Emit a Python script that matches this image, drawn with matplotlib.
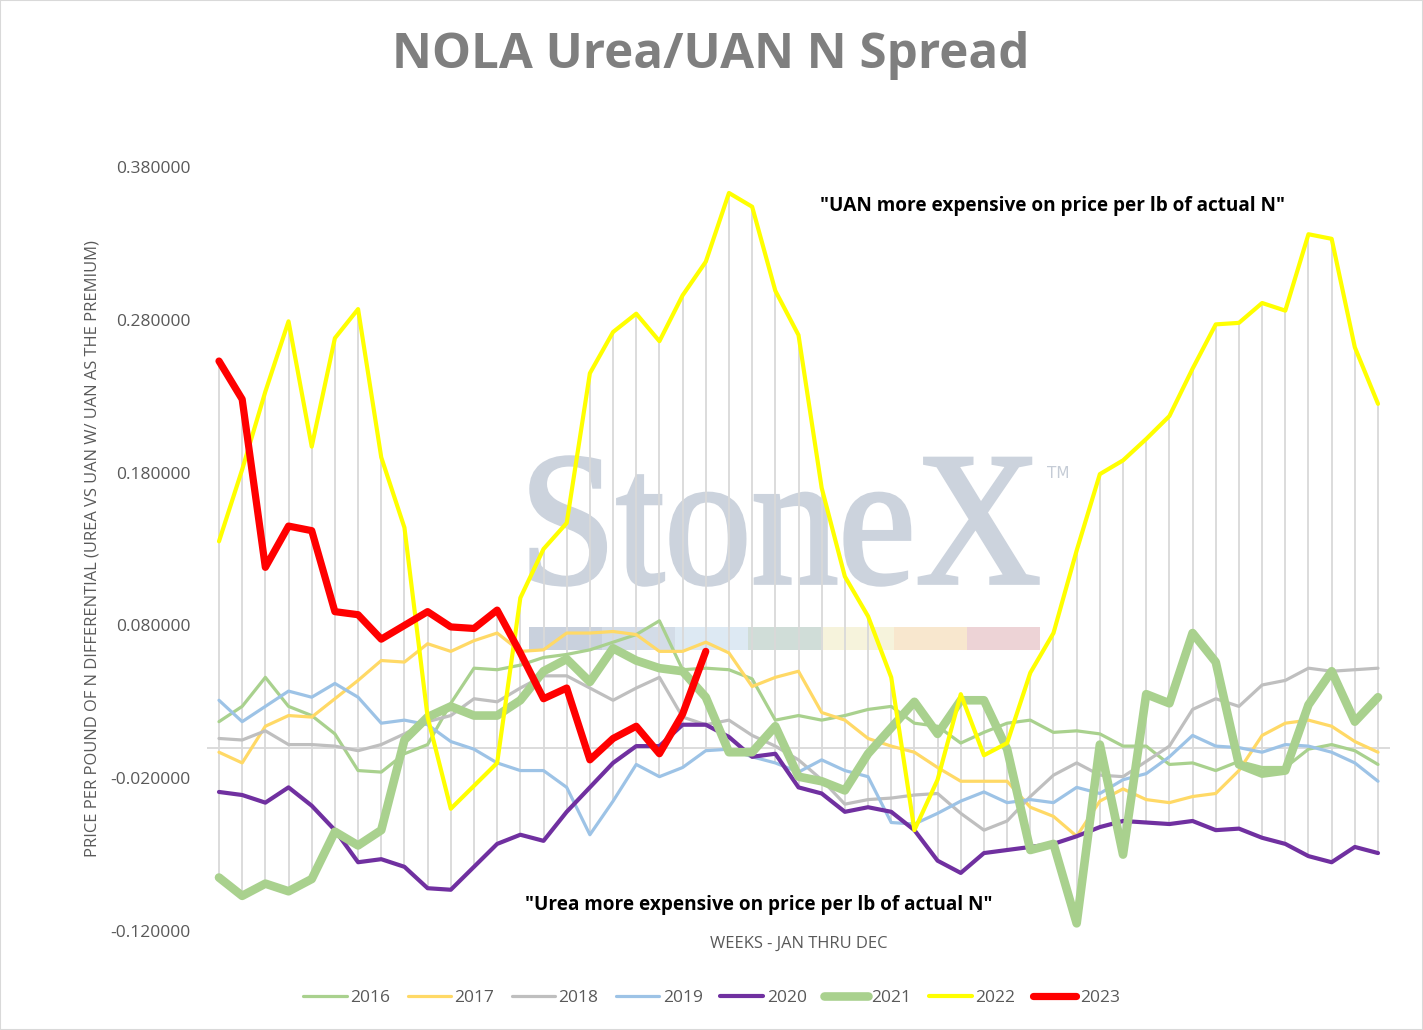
import numpy as np
import matplotlib
matplotlib.use('Agg')
import matplotlib.pyplot as plt
from matplotlib.textpath import TextPath
from matplotlib.patches import PathPatch, Rectangle
from matplotlib.font_manager import FontProperties
from matplotlib.transforms import Affine2D

plt.rcParams['font.family'] = ['Open Sans', 'DejaVu Sans']

# weekly spread, jan thru dec (51 weeks)
weeks = np.arange(1, 52)

s2016 = [0.017, 0.027, 0.046, 0.027, 0.021, 0.009, -0.015, -0.016, -0.004, 0.002,
         0.029, 0.052, 0.051, 0.054, 0.059, 0.061, 0.064, 0.069, 0.074, 0.083,
         0.051, 0.052, 0.051, 0.045, 0.018, 0.021, 0.018, 0.021, 0.025, 0.027,
         0.016, 0.014, 0.003, 0.010, 0.016, 0.018, 0.010, 0.011, 0.009, 0.001,
         0.001, -0.011, -0.010, -0.015, -0.009, -0.013, -0.013, -0.001, 0.002, -0.002,
         -0.011]
s2017 = [-0.003, -0.010, 0.014, 0.021, 0.020, 0.032, 0.044, 0.057, 0.056, 0.068,
         0.063, 0.070, 0.075, 0.063, 0.064, 0.075, 0.075, 0.076, 0.074, 0.063,
         0.063, 0.069, 0.062, 0.040, 0.046, 0.050, 0.023, 0.018, 0.006, 0.001,
         -0.003, -0.013, -0.022, -0.022, -0.022, -0.039, -0.045, -0.058, -0.035, -0.027,
         -0.034, -0.036, -0.032, -0.030, -0.015, 0.008, 0.016, 0.018, 0.014, 0.004,
         -0.003]
s2018 = [0.006, 0.005, 0.011, 0.002, 0.002, 0.001, -0.002, 0.002, 0.009, 0.017,
         0.021, 0.032, 0.030, 0.039, 0.047, 0.047, 0.039, 0.031, 0.039, 0.046,
         0.020, 0.015, 0.018, 0.008, 0.001, -0.008, -0.021, -0.037, -0.034, -0.033,
         -0.031, -0.030, -0.043, -0.054, -0.048, -0.032, -0.018, -0.010, -0.018, -0.019,
         -0.009, 0.001, 0.025, 0.032, 0.027, 0.041, 0.044, 0.052, 0.050, 0.051,
         0.052]
s2019 = [0.031, 0.017, 0.027, 0.037, 0.033, 0.042, 0.033, 0.016, 0.018, 0.015,
         0.004, -0.001, -0.010, -0.015, -0.015, -0.026, -0.057, -0.035, -0.011, -0.019,
         -0.013, -0.002, -0.001, -0.006, -0.010, -0.016, -0.008, -0.015, -0.019, -0.049,
         -0.050, -0.043, -0.035, -0.029, -0.036, -0.034, -0.036, -0.026, -0.030, -0.021,
         -0.017, -0.006, 0.008, 0.001, 0.000, -0.003, 0.002, 0.001, -0.003, -0.010,
         -0.022]
s2020 = [-0.029, -0.031, -0.036, -0.026, -0.038, -0.054, -0.075, -0.073, -0.078, -0.092,
         -0.093, -0.078, -0.063, -0.057, -0.061, -0.042, -0.026, -0.010, 0.001, 0.001,
         0.015, 0.015, 0.007, -0.006, -0.004, -0.026, -0.030, -0.042, -0.039, -0.042,
         -0.054, -0.074, -0.082, -0.069, -0.067, -0.065, -0.063, -0.058, -0.052, -0.048,
         -0.049, -0.050, -0.048, -0.054, -0.053, -0.059, -0.063, -0.071, -0.075, -0.065,
         -0.069]
s2021 = [-0.085, -0.097, -0.089, -0.094, -0.086, -0.055, -0.064, -0.054, 0.005, 0.020,
         0.027, 0.021, 0.021, 0.031, 0.050, 0.058, 0.043, 0.065, 0.057, 0.052,
         0.050, 0.033, -0.003, -0.003, 0.014, -0.019, -0.022, -0.028, -0.004, 0.013,
         0.030, 0.009, 0.031, 0.031, -0.001, -0.067, -0.063, -0.115, 0.002, -0.070,
         0.035, 0.029, 0.075, 0.056, -0.011, -0.017, -0.015, 0.028, 0.050, 0.017,
         0.033]
s2022 = [0.135, 0.182, 0.233, 0.279, 0.197, 0.268, 0.287, 0.190, 0.144, 0.020,
         -0.040, -0.025, -0.010, 0.098, 0.130, 0.147, 0.245, 0.272, 0.284, 0.266,
         0.296, 0.318, 0.363, 0.354, 0.299, 0.270, 0.170, 0.112, 0.086, 0.046,
         -0.054, -0.021, 0.035, -0.005, 0.003, 0.049, 0.075, 0.129, 0.179, 0.188,
         0.202, 0.217, 0.248, 0.277, 0.278, 0.291, 0.286, 0.336, 0.333, 0.262,
         0.225]
s2023 = [0.253, 0.228, 0.118, 0.145, 0.142, 0.089, 0.087, 0.071, 0.080, 0.089,
         0.079, 0.078, 0.090, 0.062, 0.032, 0.039, -0.008, 0.006, 0.014, -0.004,
         0.022, 0.063]

years = ['2016', '2017', '2018', '2019', '2020', '2021', '2022', '2023']
series = [s2016, s2017, s2018, s2019, s2020, s2021, s2022, s2023]
colors = ['#A9D18E', '#FFD966', '#BFBFBF', '#9DC3E6', '#7030A0', '#A9D18E', '#FFFF00', '#FF0000']
widths = [2.3, 2.3, 2.3, 2.3, 3.0, 6.2, 3.0, 5.2]

W, H = 1423, 1030


def fx(px):
    return px / W


def fy(py):
    return 1 - py / H


fig = plt.figure(figsize=(W / 100, H / 100), dpi=100)
ax = fig.add_axes([fx(207.4), fy(931), fx(1182.2), 764 / H])
ax.set_facecolor('none')

# watermark behind the plot
tp = TextPath((0, 0), 'StoneX', size=100, prop=FontProperties(family='Liberation Serif'))
ext = tp.get_extents()
x0, x1, y0, y1 = fx(531), fx(1038), fy(585), fy(457)
tr = Affine2D().translate(-ext.x0, -ext.y0).scale((x1 - x0) / ext.width, (y1 - y0) / ext.height).translate(x0, y0)
fig.add_artist(PathPatch(tr.transform_path(tp), transform=fig.transFigure,
                         facecolor='#CCD3DD', edgecolor='#CCD3DD', lw=2.5, zorder=-2))
fig.text(fx(1047), fy(474), 'TM', fontsize=11, color='#C5CCD6', va='center', ha='left',
         family='DejaVu Sans', zorder=-2)
band = ['#C9D1DD', '#D3DCE7', '#DDE9F3', '#D0DDD8', '#F6F3DC', '#F8E7CE', '#EDD3D6']
edges = np.linspace(529, 1040, len(band) + 1)
for c, a, b in zip(band, edges[:-1], edges[1:]):
    fig.add_artist(Rectangle((fx(a), fy(650)), fx(b - a), 23 / H, transform=fig.transFigure,
                             facecolor=c, edgecolor='none', zorder=-2))

# high-low lines
grid = np.full((len(series), len(weeks)), np.nan)
for k, s in enumerate(series):
    grid[k, :len(s)] = s
ax.vlines(weeks, np.nanmin(grid, axis=0), np.nanmax(grid, axis=0), color='#D9D9D9', lw=1.3, zorder=1)
ax.axhline(0, color='#D9D9D9', lw=1.3, zorder=1)

for yr, s, c, w in zip(years, series, colors, widths):
    ax.plot(weeks[:len(s)], s, color=c, lw=w, label=yr, zorder=3,
            solid_joinstyle='round', solid_capstyle='round')

ax.set_xlim(0.5, 51.5)
ax.set_ylim(-0.12, 0.38)
ticks = np.arange(-0.12, 0.381, 0.1)
ax.set_yticks(ticks)
ax.set_yticklabels([f'{t:.6f}' for t in ticks])
ax.set_xticks([])
ax.tick_params(axis='y', length=0, pad=12, labelsize=12.5, labelcolor='#595959')
for sp in ax.spines.values():
    sp.set_visible(False)

ax.set_ylabel('PRICE PER POUND OF N DIFFERENTIAL (UREA VS UAN W/ UAN AS THE PREMIUM)',
              fontsize=11.9, color='#595959')
ax.yaxis.set_label_coords((101 - 207.4) / 1182.2, 0.5)
ax.set_xlabel('WEEKS - JAN THRU DEC', fontsize=11.9, color='#595959')
ax.xaxis.set_label_coords(0.5, (931 - 936) / 764)

fig.text(fx(711), fy(55), 'NOLA Urea/UAN N Spread', fontsize=35.5, fontweight='bold',
         color='#7F7F7F', ha='center', va='center')
fig.text(fx(1052), fy(206), '"UAN more expensive on price per lb of actual N"', fontsize=13.7,
         fontweight='bold', color='black', ha='center', va='center')
fig.text(fx(759), fy(905), '"Urea more expensive on price per lb of actual N"', fontsize=13.7,
         fontweight='bold', color='black', ha='center', va='center')

leg = fig.legend(*ax.get_legend_handles_labels(), loc='center', bbox_to_anchor=(0.5, fy(998)),
                 ncol=8, frameon=False, handlelength=2.5, handletextpad=0.2, columnspacing=1.0,
                 fontsize=12.5, labelcolor='#595959')

fig.add_artist(Rectangle((0, 0), 1, 1, transform=fig.transFigure, fill=False,
                         edgecolor='#D9D9D9', lw=1.5))

fig.savefig('out.png', dpi=100)
